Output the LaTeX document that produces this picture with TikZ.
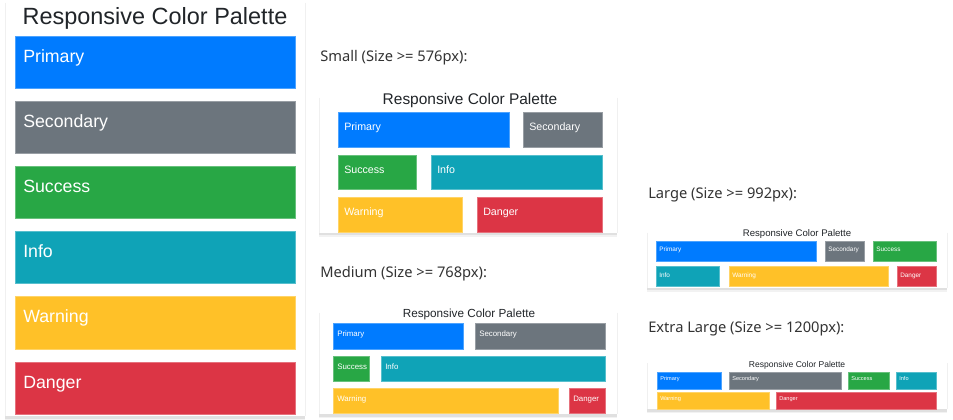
\documentclass[tikz,border=0pt]{standalone}
\usepackage{fontspec}
\setmainfont{Liberation Sans}
\newfontfamily\labelfont{Noto Sans}
\usetikzlibrary{calc}

\definecolor{cprimary}{HTML}{007BFF}
\definecolor{csecondary}{HTML}{6C757D}
\definecolor{csuccess}{HTML}{28A745}
\definecolor{cinfo}{HTML}{0FA3B7}
\definecolor{cwarning}{HTML}{FFC128}
\definecolor{cdanger}{HTML}{DC3545}
\definecolor{ctext}{HTML}{212529}
\definecolor{cheading}{HTML}{333333}

\tikzset{
  swatchlabel/.style={inner sep=0pt, text=white, anchor=base west},
  cardtitle/.style={inner sep=0pt, text=ctext, anchor=base},
  heading/.style={inner sep=0pt, text=cheading, anchor=base west, font=\labelfont\fontsize{11}{13}\selectfont},
}

% a coloured swatch: name, x1, y1, x2, y2, colour, label
\newcommand{\swatch}[7]{%
  \fill[#6, draw=#6!70!white, line width=0.75pt] (#2,#3) rectangle (#4,#5);
  \node[swatchlabel, font=\swfont] (#1) at ($(#2,#3)+(\swdx,\swdy)$) {#7};
}
% a white card with faint sides and a soft bottom shadow: x1, y1, x2, y2
\newcommand{\card}[4]{%
  \fill[black!12] (#1,#4) rectangle (#3,#4+2.5);
  \fill[black!5] (#1,#4+2.5) rectangle (#3,#4+4);
  \fill[white] (#1,#2) rectangle (#3,#4);
  \draw[black!6, line width=0.75pt] (#1,#2+3) -- (#1,#4) (#3,#2+3) -- (#3,#4);
}

\begin{document}
\begin{tikzpicture}[x=0.75pt, y=-0.75pt]
\useasboundingbox (0,0) rectangle (953,420);
\fill[white] (0,0) rectangle (953,420);

% ---------- full-width column ----------
\card{5}{0}{305}{416}
\node[cardtitle, font=\fontsize{17.6}{20}\selectfont] (t0) at (155,25) {Responsive Color Palette};
\def\swfont{\fontsize{13.3}{15}\selectfont}
\def\swdx{8}\def\swdy{26}
\swatch{a1}{15}{37}{295}{89}{cprimary}{Primary}
\swatch{a2}{15}{102}{295}{154}{csecondary}{Secondary}
\swatch{a3}{15}{167}{295}{219}{csuccess}{Success}
\swatch{a4}{15}{232}{295}{284}{cinfo}{Info}
\swatch{a5}{15}{297}{295}{349}{cwarning}{Warning}
\swatch{a6}{15}{362}{295}{414}{cdanger}{Danger}

% ---------- small ----------
\node[heading] (hs) at (320,62) {Small (Size >= 576px):};
\card{319}{95}{617}{233}
\node[cardtitle, font=\fontsize{11.6}{13}\selectfont] (ts) at (470,105) {Responsive Color Palette};
\def\swfont{\fontsize{8}{10}\selectfont}
\def\swdx{6}\def\swdy{18}
\swatch{b1}{338}{113}{509}{148}{cprimary}{Primary}
\swatch{b2}{523}{113}{602}{148}{csecondary}{Secondary}
\swatch{b3}{338}{156}{416}{190}{csuccess}{Success}
\swatch{b4}{431}{156}{602}{190}{cinfo}{Info}
\swatch{b5}{338}{198}{462}{233}{cwarning}{Warning}
\swatch{b6}{477}{198}{602}{233}{cdanger}{Danger}

% ---------- medium ----------
\node[heading] (hm) at (320,277) {Medium (Size >= 768px):};
\card{319}{310}{617}{414}
\node[cardtitle, font=\fontsize{8.8}{10}\selectfont] (tm) at (469,317) {Responsive Color Palette};
\def\swfont{\fontsize{5.9}{7}\selectfont}
\def\swdx{4}\def\swdy{13}
\swatch{c1}{333}{323}{463}{349}{cprimary}{Primary}
\swatch{c2}{475}{323}{605}{349}{csecondary}{Secondary}
\swatch{c3}{333}{356}{369}{381}{csuccess}{Success}
\swatch{c4}{381}{356}{605}{381}{cinfo}{Info}
\swatch{c5}{333}{388}{558}{413}{cwarning}{Warning}
\swatch{c6}{569}{388}{605}{413}{cdanger}{Danger}

% ---------- large ----------
\node[heading] (hl) at (648,199) {Large (Size >= 992px):};
\card{647}{230}{947}{288}
\node[cardtitle, font=\fontsize{7.2}{8}\selectfont] (tl) at (797,237) {Responsive Color Palette};
\def\swfont{\fontsize{4.8}{6}\selectfont}
\def\swdx{3}\def\swdy{10}
\swatch{d1}{656}{242}{816}{262}{cprimary}{Primary}
\swatch{d2}{825}{242}{864}{262}{csecondary}{Secondary}
\swatch{d3}{873}{242}{936}{262}{csuccess}{Success}
\swatch{d4}{656}{267}{719}{287}{cinfo}{Info}
\swatch{d5}{729}{267}{888}{287}{cwarning}{Warning}
\swatch{d6}{897}{267}{936}{287}{cdanger}{Danger}

% ---------- extra large ----------
\node[heading] (hx) at (648,332) {Extra Large (Size >= 1200px):};
\card{647}{360}{947}{409}
\node[cardtitle, font=\fontsize{6.4}{8}\selectfont] (tx) at (797,367) {Responsive Color Palette};
\def\swfont{\fontsize{4.2}{5}\selectfont}
\def\swdx{3}\def\swdy{8}
\swatch{e1}{657}{372}{721}{389}{cprimary}{Primary}
\swatch{e2}{729}{372}{841}{389}{csecondary}{Secondary}
\swatch{e3}{848}{372}{889}{389}{csuccess}{Success}
\swatch{e4}{896}{372}{936}{389}{cinfo}{Info}
\swatch{e5}{657}{392}{769}{409}{cwarning}{Warning}
\swatch{e6}{776}{392}{936}{409}{cdanger}{Danger}
\end{tikzpicture}
\end{document}
